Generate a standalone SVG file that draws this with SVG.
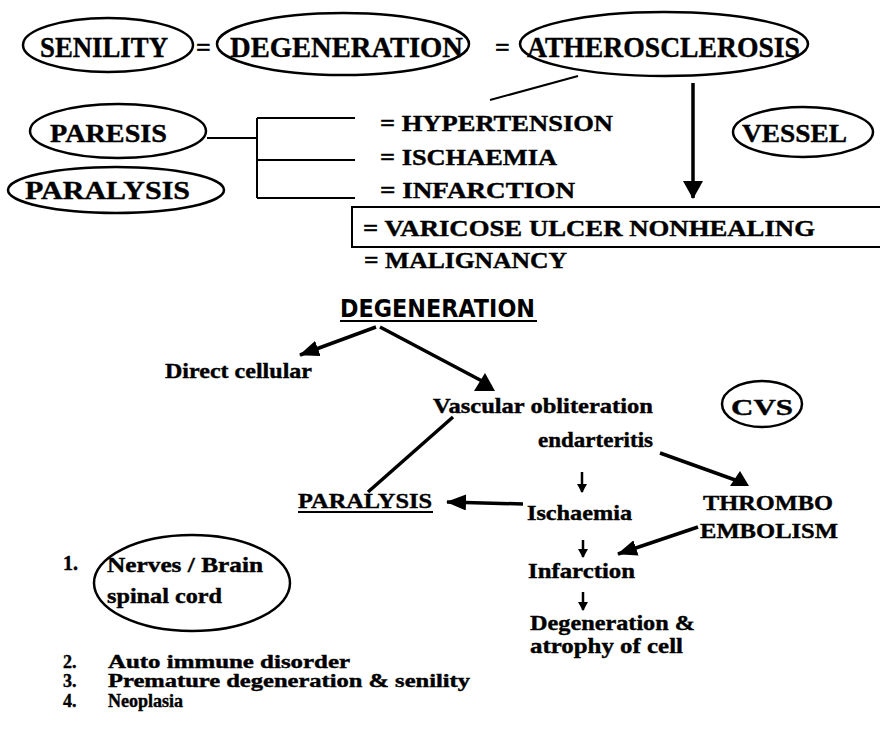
<svg xmlns="http://www.w3.org/2000/svg" width="880" height="730" viewBox="0 0 880 730">
<style>
  .t { font-family: "Liberation Serif", "Times New Roman", serif; font-weight: bold; fill: #000; stroke: #000; stroke-width: 0.4; }
  .s { font-family: "DejaVu Sans", "Liberation Sans", sans-serif; font-weight: bold; fill: #000; }
  .ov { fill: none; stroke: #000; stroke-width: 2.5; }
  .ln { fill: none; stroke: #000; stroke-width: 2; }
  .ar { fill: none; stroke: #000; stroke-width: 3.5; }
  .thin { fill: none; stroke: #000; stroke-width: 2.5; }
  .hd { fill: #000; stroke: none; }
</style>
<defs>
  <marker id="big" markerUnits="userSpaceOnUse" viewBox="0 0 18 20" markerWidth="18" markerHeight="20" refX="17" refY="10" orient="auto">
    <path d="M0,0 L18,10 L0,20 z" fill="#000"/>
  </marker>
  <marker id="mid" markerUnits="userSpaceOnUse" viewBox="0 0 20 16" markerWidth="20" markerHeight="16" refX="19" refY="8" orient="auto">
    <path d="M0,0 L20,8 L0,16 z" fill="#000"/>
  </marker>
  <marker id="sm" markerUnits="userSpaceOnUse" viewBox="0 0 9 10" markerWidth="9" markerHeight="10" refX="8" refY="5" orient="auto">
    <path d="M0,0 L9,5 L0,10 z" fill="#000"/>
  </marker>
</defs>
<rect x="0" y="0" width="880" height="730" fill="#fff"/>

<!-- top row -->
<g id="senility">
  <ellipse class="ov" cx="108" cy="45" rx="85" ry="27"/>
  <text class="t" x="40" y="57" font-size="30" textLength="128" lengthAdjust="spacingAndGlyphs">SENILITY</text>
</g>
<g id="eq1"><text class="t" x="196" y="56" font-size="26">=</text></g>
<g id="degeneration-top">
  <ellipse class="ov" cx="343" cy="44" rx="126" ry="31"/>
  <text class="t" x="230" y="57" font-size="30" textLength="233" lengthAdjust="spacingAndGlyphs">DEGENERATION</text>
</g>
<g id="eq2"><text class="t" x="495" y="56" font-size="26">=</text></g>
<g id="atherosclerosis">
  <ellipse class="ov" cx="664" cy="44" rx="144" ry="32"/>
  <text class="t" x="527" y="57" font-size="30" textLength="273" lengthAdjust="spacingAndGlyphs">ATHEROSCLEROSIS</text>
</g>

<g id="paresis">
  <ellipse class="ov" cx="118" cy="131" rx="88" ry="27"/>
  <text class="t" x="50" y="142" font-size="26" textLength="117" lengthAdjust="spacingAndGlyphs">PARESIS</text>
</g>
<g id="paralysis-top">
  <ellipse class="ov" cx="116" cy="190" rx="108" ry="23"/>
  <text class="t" x="25" y="199" font-size="26" textLength="165" lengthAdjust="spacingAndGlyphs">PARALYSIS</text>
</g>
<g id="vessel">
  <ellipse class="ov" cx="803" cy="132" rx="70" ry="25"/>
  <text class="t" x="742" y="142" font-size="26" textLength="105" lengthAdjust="spacingAndGlyphs">VESSEL</text>
</g>

<g id="list-top">
  <text class="t" x="380" y="131" font-size="24" textLength="233" lengthAdjust="spacingAndGlyphs">= HYPERTENSION</text>
  <text class="t" x="380" y="165" font-size="24" textLength="177" lengthAdjust="spacingAndGlyphs">= ISCHAEMIA</text>
  <text class="t" x="380" y="198" font-size="24" textLength="195" lengthAdjust="spacingAndGlyphs">= INFARCTION</text>
</g>
<g id="varicose">
  <rect class="ln" x="352" y="207" width="540" height="40"/>
  <text class="t" x="363" y="236" font-size="24" textLength="452" lengthAdjust="spacingAndGlyphs">= VARICOSE ULCER NONHEALING</text>
</g>
<g id="malignancy">
  <text class="t" x="364" y="268" font-size="24" textLength="203" lengthAdjust="spacingAndGlyphs">= MALIGNANCY</text>
</g>

<!-- middle -->
<g id="degeneration-mid">
  <text class="s" x="340" y="317" font-size="24" textLength="195" lengthAdjust="spacingAndGlyphs">DEGENERATION</text>
  <line class="ln" x1="340" y1="321" x2="537" y2="321"/>
</g>
<g id="direct-cellular">
  <text class="t" x="165" y="378" font-size="22" textLength="147" lengthAdjust="spacingAndGlyphs">Direct cellular</text>
</g>
<g id="vascular">
  <text class="t" x="433" y="413" font-size="22" textLength="220" lengthAdjust="spacingAndGlyphs">Vascular obliteration</text>
  <text class="t" x="538" y="447" font-size="22" textLength="115" lengthAdjust="spacingAndGlyphs">endarteritis</text>
</g>
<g id="cvs">
  <ellipse class="ov" cx="762" cy="404" rx="40" ry="23"/>
  <text class="t" x="731" y="415" font-size="24" textLength="62" lengthAdjust="spacingAndGlyphs">CVS</text>
</g>
<g id="paralysis-mid">
  <text class="t" x="298" y="508" font-size="22" textLength="134" lengthAdjust="spacingAndGlyphs">PARALYSIS</text>
  <line class="ln" x1="298" y1="512" x2="433" y2="512"/>
</g>
<g id="ischaemia">
  <text class="t" x="527" y="520" font-size="22" textLength="105" lengthAdjust="spacingAndGlyphs">Ischaemia</text>
</g>
<g id="thrombo">
  <text class="t" x="703" y="510" font-size="22" textLength="130" lengthAdjust="spacingAndGlyphs">THROMBO</text>
  <text class="t" x="700" y="538" font-size="22" textLength="138" lengthAdjust="spacingAndGlyphs">EMBOLISM</text>
</g>
<g id="infarction">
  <text class="t" x="528" y="578" font-size="22" textLength="107" lengthAdjust="spacingAndGlyphs">Infarction</text>
</g>
<g id="degeneration-atrophy">
  <text class="t" x="530" y="630" font-size="22" textLength="165" lengthAdjust="spacingAndGlyphs">Degeneration &amp;</text>
  <text class="t" x="530" y="653" font-size="22" textLength="153" lengthAdjust="spacingAndGlyphs">atrophy of cell</text>
</g>

<!-- bottom list -->
<g id="nerves">
  <ellipse class="ov" cx="192" cy="583" rx="98" ry="48"/>
  <text class="t" x="63" y="570" font-size="20">1.</text>
  <text class="t" x="107" y="572" font-size="21" textLength="156" lengthAdjust="spacingAndGlyphs">Nerves / Brain</text>
  <text class="t" x="107" y="603" font-size="21" textLength="115" lengthAdjust="spacingAndGlyphs">spinal cord</text>
</g>
<g id="list-bottom">
  <text class="t" x="63" y="668" font-size="18">2.</text>
  <text class="t" x="108" y="668" font-size="18" textLength="242" lengthAdjust="spacingAndGlyphs">Auto immune disorder</text>
  <text class="t" x="63" y="687" font-size="18">3.</text>
  <text class="t" x="108" y="687" font-size="18" textLength="362" lengthAdjust="spacingAndGlyphs">Premature degeneration &amp; senility</text>
  <text class="t" x="63" y="707" font-size="18">4.</text>
  <text class="t" x="108" y="707" font-size="18" textLength="75" lengthAdjust="spacingAndGlyphs">Neoplasia</text>
</g>

<!-- connectors -->
<g id="connectors">
  <line class="ln" x1="578" y1="76" x2="490" y2="100"/>
  <line class="ar" x1="693" y1="83" x2="693" y2="198" marker-end="url(#big)"/>
  <polyline class="ln" points="207,138 257,138"/>
  <line class="ln" x1="257" y1="118" x2="257" y2="198"/>
  <line class="ln" x1="257" y1="118" x2="355" y2="118"/>
  <line class="ln" x1="257" y1="160" x2="355" y2="160"/>
  <line class="ln" x1="257" y1="198" x2="355" y2="198"/>

  <line class="ar" x1="376" y1="327" x2="300" y2="355" marker-end="url(#mid)"/>
  <line class="ar" x1="380" y1="327" x2="482" y2="381"/>
  <polygon class="hd" points="474,391 495,391 485,373"/>
  <line class="ar" x1="453" y1="417" x2="368" y2="492"/>
  <line class="ar" x1="660" y1="453" x2="738" y2="481"/>
  <polygon class="hd" points="730,486 749,486 740,471"/>
  <line class="ar" x1="523" y1="504" x2="447" y2="502" marker-end="url(#mid)"/>
  <line class="ar" x1="698" y1="527" x2="618" y2="554" marker-end="url(#mid)"/>
  <line class="thin" x1="582" y1="472" x2="582" y2="492" marker-end="url(#sm)"/>
  <line class="thin" x1="583" y1="540" x2="583" y2="557" marker-end="url(#sm)"/>
  <line class="thin" x1="583" y1="592" x2="583" y2="610" marker-end="url(#sm)"/>
</g>
</svg>
